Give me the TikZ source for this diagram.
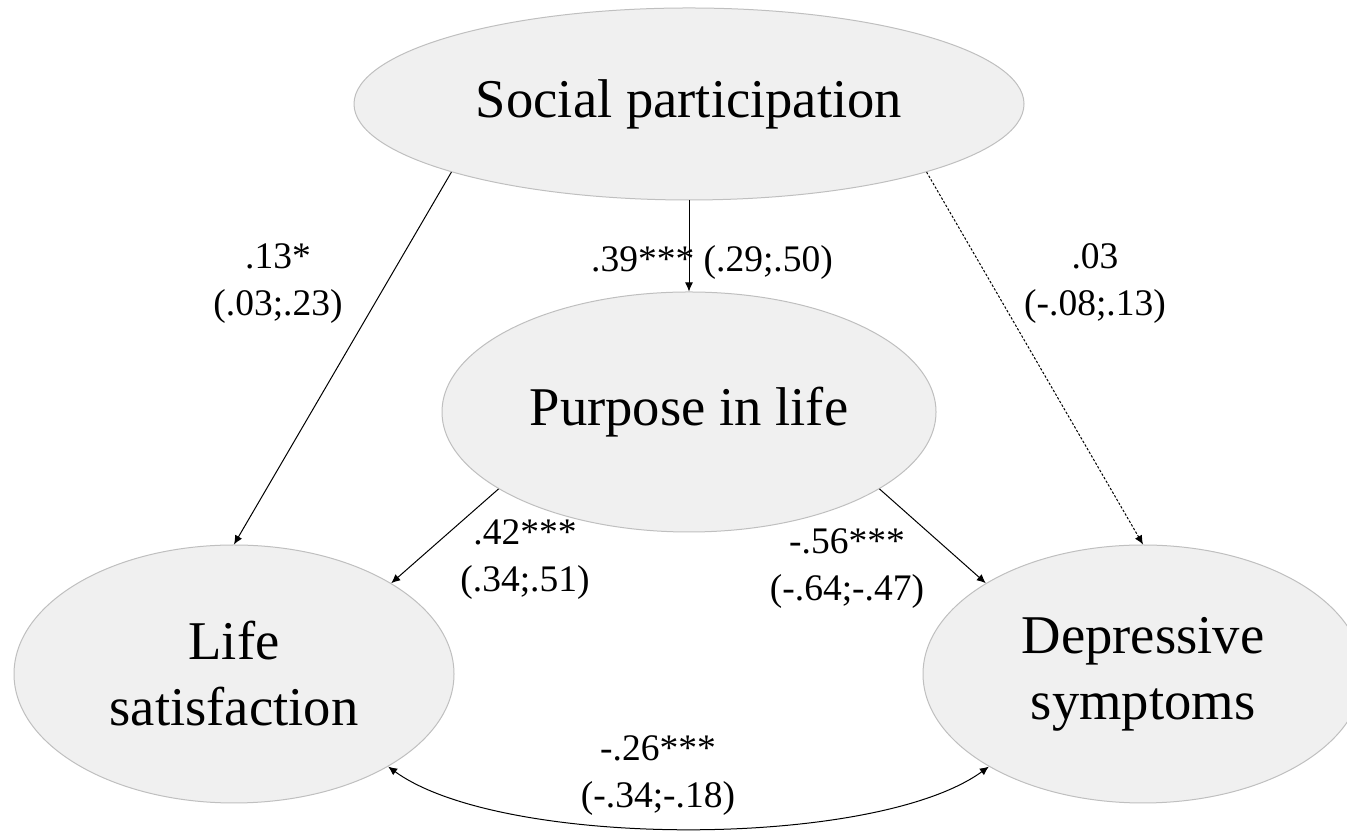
\documentclass[tikz,border=0pt]{standalone}
\usepackage{fontspec}
\setmainfont{Liberation Serif}
\usetikzlibrary{shapes.geometric}
\usetikzlibrary{arrows.meta}

\begin{document}
\begin{tikzpicture}[x=0.5pt, y=0.5pt, line width=0.5pt,
    latent/.style={ellipse, draw=black!25, fill=black!6, inner sep=0pt, align=center,
      font={\fontsize{27.3}{33}\selectfont}},
    coef/.style={align=center, font={\fontsize{18.75}{23.5}\selectfont}},
    effect/.style={-{Latex[length=4.5pt,width=4pt]}}]

  \useasboundingbox (0,0) rectangle (1347,833);

  % latent variables
  \node[latent, minimum width=335pt, minimum height=96pt] (sp) at (689,729) {Social participation};
  \node[latent, minimum width=247pt, minimum height=120pt] (pil) at (689,421) {Purpose in life};
  \node[latent, minimum width=220pt, minimum height=129pt] (ls) at (234,159) {Life\\satisfaction};
  \node[latent, minimum width=220pt, minimum height=129pt] (ds) at (1143,159) {Depressive\\symptoms};

  % paths
  \draw[effect] (sp.196) -- (ls.north);
  \draw[effect] (sp.south) -- (pil.north);
  \draw[effect, dash pattern=on 1.2pt off 0.9pt] (sp.-16) -- (ds.north);
  \draw[effect] (pil.202) -- (ls.30);
  \draw[effect] (pil.-22) -- (ds.150);
  \draw[{Latex[length=4.5pt,width=4pt]}-{Latex[length=4.5pt,width=4pt]}]
    (ls.-31) to[out=-36, in=-144, looseness=0.6] (ds.-149);

  % coefficients
  \node[coef] (c13) at (278,549) {.13*\\(.03;.23)};
  \node[coef] (c39) at (712,571) {.39*** (.29;.50)};
  \node[coef] (c03) at (1095,549) {.03\\(-.08;.13)};
  \node[coef] (c42) at (525,273) {.42***\\(.34;.51)};
  \node[coef] (c56) at (847,264) {-.56***\\(-.64;-.47)};
  \node[coef] (c26) at (658,57) {-.26***\\(-.34;-.18)};

\end{tikzpicture}
\end{document}
